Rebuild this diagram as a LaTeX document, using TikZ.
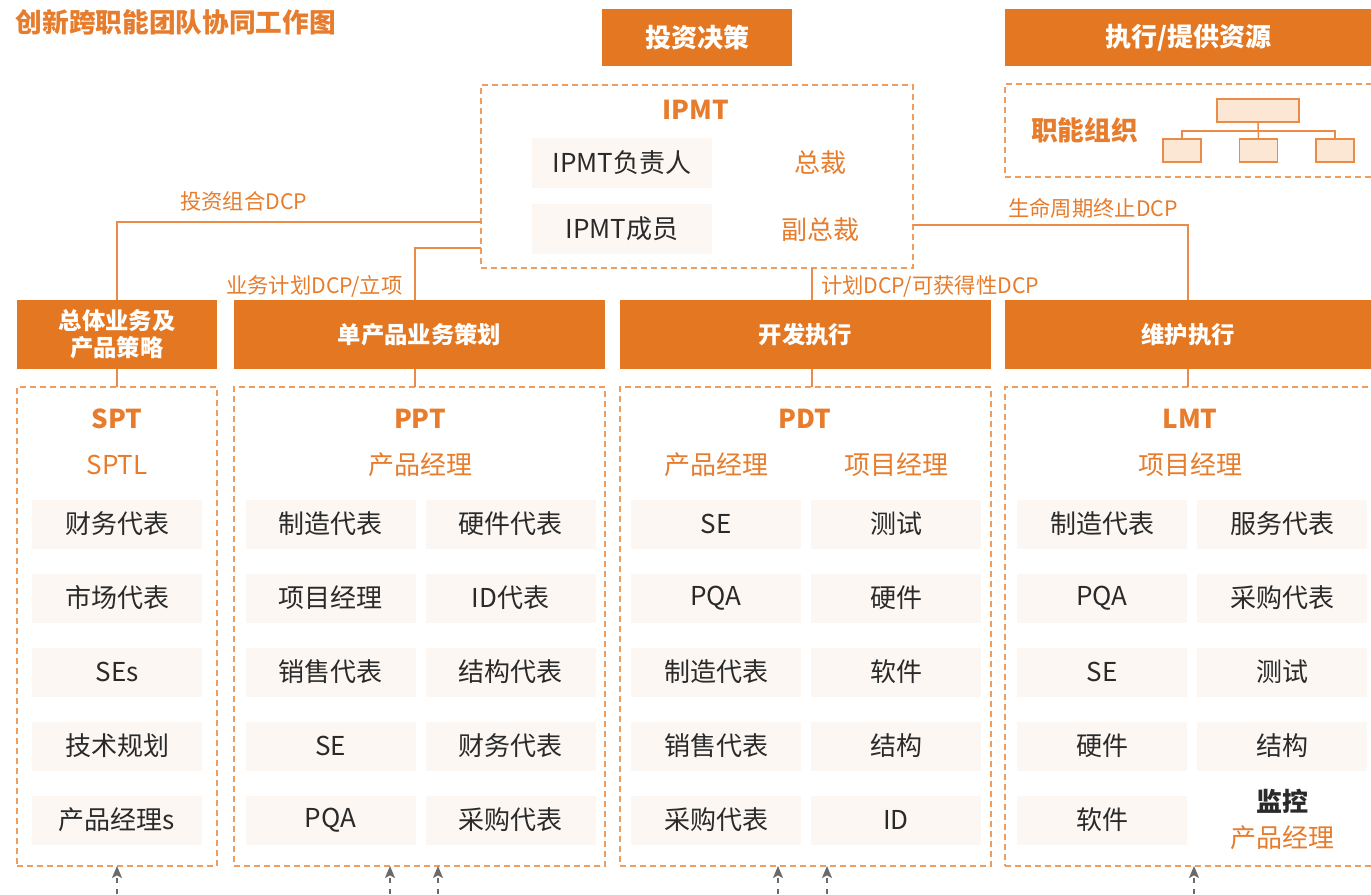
\documentclass[tikz,border=0pt]{standalone}
\usepackage{fontspec}
\setmainfont{Noto Sans CJK SC}
\usetikzlibrary{calc,arrows.meta}
\definecolor{og}{HTML}{E37722}
\definecolor{ogtext}{HTML}{E67C2C}
\definecolor{dashc}{HTML}{EF9D5E}
\definecolor{lnc}{HTML}{EA8B48}
\definecolor{cellbg}{HTML}{FCF7F3}
\definecolor{dark}{HTML}{2A2A2A}
\definecolor{orgfill}{HTML}{FCE6D4}
\definecolor{garr}{HTML}{6A6A6A}
\begin{document}
\begin{tikzpicture}[x=0.75pt,y=-0.75pt,
  every node/.style={inner sep=0pt, outer sep=0pt},
  hdr/.style={fill=og, text=white, font=\fontsize{17.5}{20.25}\selectfont\bfseries, align=center, minimum height=51.75pt},
  tophdr/.style={fill=og, text=white, font=\fontsize{19.5}{22}\selectfont\bfseries, minimum height=42.75pt},
  panel/.style={draw=dashc, line width=1.1pt, dash pattern=on 4.5pt off 3pt},
  cell/.style={fill=cellbg, text=dark, minimum width=127.5pt, minimum height=36.75pt, font=\fontsize{19.5}{22}\selectfont},
  ttl/.style={text=ogtext, font=\fontsize{19.5}{22}\selectfont\bfseries},
  sub/.style={text=ogtext, font=\fontsize{19.5}{22}\selectfont},
  conn/.style={draw=lnc, line width=1.1pt},
  lbl/.style={text=ogtext, font=\fontsize{16}{18}\selectfont, anchor=west},
  orgbox/.style={draw=lnc, fill=orgfill, line width=1.1pt},
  garrow/.style={draw=garr, line width=1.1pt, dash pattern=on 3.75pt off 4.5pt, -{Stealth[length=9pt,width=7.5pt,inset=2pt]}}
]
\useasboundingbox (0,0) rectangle (1371,894);
\clip (0,0) rectangle (1371,894);

% title
\node[anchor=west, text=ogtext, font=\fontsize{20}{24}\selectfont\bfseries] (title) at (16,22) {创新跨职能团队协同工作图};

% top headers
\node[tophdr, minimum width=142.5pt] (invest) at (697,37.5) {投资决策};
\node[tophdr, minimum width=274.5pt] (exec) at (1188,37.5) {执行/提供资源};

% functional organisation
\node[panel, minimum width=275.25pt, minimum height=69.75pt] (funcbox) at (1188.5,130.5) {};
\node[anchor=west, text=ogtext, font=\fontsize{20}{24}\selectfont\bfseries] (funclbl) at (1031,130) {职能组织};
\node[orgbox, minimum width=61.5pt, minimum height=17.25pt] (orgtop) at (1258,110.5) {};
\node[orgbox, minimum width=28.5pt, minimum height=17.25pt] (orgb1) at (1182,150.5) {};
\node[orgbox, minimum width=28.5pt, minimum height=17.25pt] (orgb2) at (1258.5,150.5) {};
\node[orgbox, minimum width=28.5pt, minimum height=17.25pt] (orgb3) at (1335,150.5) {};
\coordinate (bar) at (1258.5,131);
\draw[conn] (orgtop.south) -- (orgb2.north);
\draw[conn] (orgb1.north) |- (bar) -| (orgb3.north);

% IPMT
\node[panel, minimum width=324pt, minimum height=137.25pt] (ipmt) at (697,176.5) {};
\node[ttl] (ipmtt) at (696,110) {IPMT};
\node[cell, minimum width=135pt, minimum height=37.5pt] (ipmt1) at (622,163) {IPMT负责人};
\node[cell, minimum width=135pt, minimum height=37.5pt] (ipmt2) at (622,228.5) {IPMT成员};
\node[sub] (pres) at (820,163) {总裁};
\node[sub] (vpres) at (820,230) {副总裁};

% header row
\node[hdr, minimum width=150pt] (spth) at (117,334.5) {总体业务及\\产品策略};
\node[hdr, minimum width=278.25pt] (ppth) at (419.5,334.5) {单产品业务策划};
\node[hdr, minimum width=278.25pt] (pdth) at (805.5,334.5) {开发执行};
\node[hdr, minimum width=274.5pt] (lmth) at (1188,334.5) {维护执行};

% panels
\node[panel, minimum width=150pt, minimum height=359.25pt] (spt) at (117,626.5) {};
\node[panel, minimum width=278.25pt, minimum height=359.25pt] (ppt) at (419.5,626.5) {};
\node[panel, minimum width=278.25pt, minimum height=359.25pt] (pdt) at (805.5,626.5) {};
\node[panel, minimum width=275.25pt, minimum height=359.25pt] (lmt) at (1188.5,626.5) {};

% connectors from IPMT
\path ($(ipmt.south west)!0.766!(ipmt.south east)$) coordinate (ipB);
\path ($(ppth.north west)!0.488!(ppth.north east)$) coordinate (ppX);
\draw[conn] ($(ipmt.north west)!0.749!(ipmt.south west)$) -| (spth.north);
\draw[conn] ($(ipmt.north west)!0.891!(ipmt.south west)$) -| (ppX);
\draw[conn] (ipB) -- (ipB |- pdth.north);
\draw[conn] ($(ipmt.north east)!0.765!(ipmt.south east)$) -| (lmth.north);
\node[lbl] (l1) at (180,201) {投资组合DCP};
\node[lbl] (l2) at (226,286) {业务计划DCP/立项};
\node[lbl] (l3) at (821,286) {计划DCP/可获得性DCP};
\node[lbl] (l4) at (1008,208) {生命周期终止DCP};

% stubs header -> panel
\draw[conn] (spth.south) -- (spt.north);
\draw[conn] (ppth.south -| ppX) -- (ppt.north -| ppX);
\draw[conn] (pdth.south -| ipB) -- (pdt.north -| ipB);
\draw[conn] (lmth.south) -- (lmth.south |- lmt.north);

% SPT
\node[ttl] (sptt) at (117,419) {SPT};
\node[sub] (sptl) at (117,465) {SPTL};
\foreach \t [count=\i] in {财务代表,市场代表,SEs,技术规划,产品经理s}
  \node[cell] (spt\i) at (117,{524+(\i-1)*74}) {\t};

% PPT
\node[ttl] (pptt) at (420,419) {PPT};
\node[sub] (pptpm) at (420,465) {产品经理};
\foreach \a/\b [count=\i] in {制造代表/硬件代表,项目经理/ID代表,销售代表/结构代表,SE/财务代表,PQA/采购代表}{
  \node[cell] (pptL\i) at (330.5,{524+(\i-1)*74}) {\a};
  \node[cell] (pptR\i) at (510.5,{524+(\i-1)*74}) {\b};
}

% PDT
\node[ttl] (pdtt) at (805,419) {PDT};
\node[sub] (pdtpm) at (716,465) {产品经理};
\node[sub] (pdtprj) at (896,465) {项目经理};
\foreach \a/\b [count=\i] in {SE/测试,PQA/硬件,制造代表/软件,销售代表/结构,采购代表/ID}{
  \node[cell] (pdtL\i) at (716,{524+(\i-1)*74}) {\a};
  \node[cell] (pdtR\i) at (896,{524+(\i-1)*74}) {\b};
}

% LMT
\node[ttl] (lmtt) at (1190,419) {LMT};
\node[sub] (lmtprj) at (1190,465) {项目经理};
\foreach \a/\b [count=\i] in {制造代表/服务代表,PQA/采购代表,SE/测试,硬件/结构}{
  \node[cell] (lmtL\i) at (1102,{524+(\i-1)*74}) {\a};
  \node[cell] (lmtR\i) at (1282,{524+(\i-1)*74}) {\b};
}
\node[cell] (lmtL5) at (1102,820) {软件};
\node[text=dark, font=\fontsize{19.5}{22}\selectfont\bfseries] (mon) at (1282,801) {监控};
\node[sub] (monpm) at (1282,838) {产品经理};

% bottom arrows
\coordinate (b1) at (117,894);
\coordinate (b2) at (390,894);
\coordinate (b3) at (438,894);
\coordinate (b4) at (778,894);
\coordinate (b5) at (827,894);
\coordinate (b6) at (1194,894);
\draw[garrow] (b1) -- (b1 |- spt.south);
\draw[garrow] (b2) -- (b2 |- ppt.south);
\draw[garrow] (b3) -- (b3 |- ppt.south);
\draw[garrow] (b4) -- (b4 |- pdt.south);
\draw[garrow] (b5) -- (b5 |- pdt.south);
\draw[garrow] (b6) -- (b6 |- lmt.south);
\end{tikzpicture}
\end{document}
